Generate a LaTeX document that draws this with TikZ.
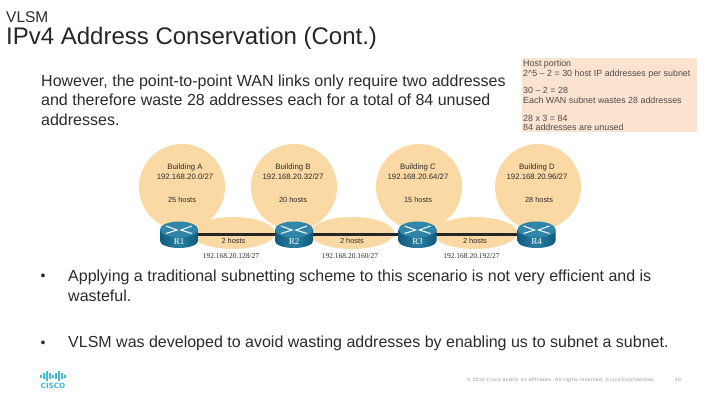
\documentclass[tikz,border=0pt]{standalone}
\usepackage{fontspec}
\setmainfont{Liberation Sans}
\newfontfamily\serifrm{Liberation Serif}
\newfontfamily\logofont{DejaVu Sans}
\usetikzlibrary{shapes.geometric}
\definecolor{bub}{HTML}{FBD9A4}
\definecolor{notebg}{HTML}{FCE3D0}
\definecolor{txt}{HTML}{2B2B2B}
\definecolor{rtop}{HTML}{2F86A8}
\definecolor{rside}{HTML}{0F5A7C}
\definecolor{cisco}{HTML}{3DBBDD}
\tikzset{
  bodytext/.style={anchor=north west,inner sep=0pt,align=left,text=txt,font=\fontsize{16}{19.7}\selectfont},
  bulletmark/.style={anchor=base,inner sep=0pt,text=txt,font=\fontsize{14}{16}\selectfont},
  netlabel/.style={align=center,inner sep=0pt,text=txt,font=\fontsize{7.8}{10.4}\selectfont},
  hostlabel/.style={inner sep=0pt,text=txt,font=\fontsize{7.4}{9}\selectfont},
  wanlabel/.style={inner sep=0pt,text=txt,font=\serifrm\fontsize{7.5}{9}\selectfont},
  rlabel/.style={inner sep=0pt,text=white,font=\serifrm\fontsize{9}{10}\selectfont},
  bubble/.style={circle,fill=bub,inner sep=0pt,minimum size=86pt},
  wanbubble/.style={ellipse,fill=bub,minimum width=84pt,minimum height=32pt,inner sep=0pt},
  routerspot/.style={inner sep=0pt,minimum width=38pt,minimum height=26pt},
  routerbody/.style={left color=rside,right color=rside,middle color=rtop!85!rside},
  routertop/.style={fill=rtop},
  routerx/.style={white,line width=1pt},
  wanlink/.style={draw=black!85,line width=2.2pt},
  footer/.style={inner sep=0pt,text=black!45,font=\fontsize{4.8}{6}\selectfont},
  ciscobar/.style={draw=cisco,line width=1.5pt}
}
\begin{document}
\begin{tikzpicture}[x=1pt,y=-1pt]
\useasboundingbox[fill=white] (0,0) rectangle (720,405);
\node[anchor=west,inner sep=0pt,text=txt,font=\fontsize{15.5}{17}\selectfont] (sec) at (6,17) {VLSM};
\node[anchor=west,inner sep=0pt,text=black!85,font=\fontsize{24}{27}\selectfont] (title) at (6,38) {IPv4 Address Conservation (Cont.)};
\node[bodytext] (intro) at (41,74.5) {However, the point-to-point WAN links only require two addresses\\and therefore waste 28 addresses each for a total of 84 unused\\addresses.};
\node[anchor=north west,fill=notebg,minimum width=175pt,minimum height=74pt,inner sep=0pt] (notebox) at (522,58) {};
\node[anchor=north west,inner sep=0pt,align=left,text=black!70,font=\fontsize{8.9}{9.35}\selectfont] (note) at (523,60) {Host portion\\2\textasciicircum 5 -- 2 = 30 host IP addresses per subnet\\[8.6pt]30 -- 2 = 28\\Each WAN subnet wastes 28 addresses\\[8.6pt]28 x 3 = 84\\84 addresses are unused};
% bubbles
\node[bubble] (ba) at (182,187) {};
\node[bubble] (bb) at (294,187) {};
\node[bubble] (bc) at (419,187) {};
\node[bubble] (bd) at (538,187) {};
\node[wanbubble] (w1) at (233,233) {};
\node[wanbubble] (w2) at (352,233) {};
\node[wanbubble] (w3) at (475,233) {};
% router positions and links
\node[routerspot] (r1) at (179,234.5) {};
\node[routerspot] (r2) at (294,234.5) {};
\node[routerspot] (r3) at (417.5,234.5) {};
\node[routerspot] (r4) at (536.5,234.5) {};
\draw[wanlink] (r1.center) -- (r2.center) -- (r3.center) -- (r4.center);
% routers
\foreach \n/\l in {r1/R1,r2/R2,r3/R3,r4/R4}{
  \path[routerbody] ([shift={(-19,-5)}]\n.center) -- ([shift={(-19,6.5)}]\n.center)
     arc[start angle=180,end angle=360,x radius=19pt,y radius=7pt] -- ([shift={(19,-5)}]\n.center) -- cycle;
  \path[routertop] ([shift={(0,-5)}]\n.center) ellipse[x radius=19pt,y radius=8pt];
  \node[rlabel] (\n t) at ([yshift=-7.5pt]\n.center) {\l};
  \draw[routerx] ([shift={(-13,-8.5)}]\n.center) -- ([shift={(-2,-4.5)}]\n.center) -- ([shift={(-13,-1)}]\n.center);
  \draw[routerx] ([shift={(13,-8.5)}]\n.center) -- ([shift={(2,-4.5)}]\n.center) -- ([shift={(13,-1)}]\n.center);
}
% labels
\node[netlabel] (la) at (185,172) {Building A\\192.168.20.0/27};
\node[netlabel] (lb) at (293,172) {Building B\\192.168.20.32/27};
\node[netlabel] (lc) at (418,172) {Building C\\192.168.20.64/27};
\node[netlabel] (ld) at (537,172) {Building D\\192.168.20.96/27};
\node[hostlabel] (ha) at (182,200) {25 hosts};
\node[hostlabel] (hb) at (293,200) {20 hosts};
\node[hostlabel] (hc) at (418,200) {15 hosts};
\node[hostlabel] (hd) at (539,200) {28 hosts};
\node[hostlabel] (h1) at (233.5,241) {2 hosts};
\node[hostlabel] (h2) at (352,241) {2 hosts};
\node[hostlabel] (h3) at (475,241) {2 hosts};
\node[wanlabel] (n1) at (231,256) {192.168.20.128/27};
\node[wanlabel] (n2) at (350,256) {192.168.20.160/27};
\node[wanlabel] (n3) at (471.5,256) {192.168.20.192/27};
% bullets
\node[bulletmark] (b1m) at (43,280) {•};
\node[bodytext] (b1) at (68,269.5) {Applying a traditional subnetting scheme to this scenario is not very efficient and is\\[0.7pt]wasteful.};
\node[bulletmark] (b2m) at (43,347) {•};
\node[bodytext] (b2) at (68,336) {VLSM was developed to avoid wasting addresses by enabling us to subnet a subnet.};
% footer
\node[footer,anchor=west] (copy) at (467,380) {\addfontfeature{LetterSpace=11}© 2016  Cisco and/or its affiliates. All rights reserved.   Cisco Confidential};
\node[footer,anchor=west] (pg) at (675,380) {\addfontfeature{LetterSpace=11}40};
% logo
\foreach \x/\h in {41/1.5,44/3,47/5,50/3,53/1.5,56/3,59/5,62/3,65/1.5}{
  \draw[ciscobar] (\x,376-\h) -- (\x,376+\h);
}
\node[inner sep=0pt,text=cisco,font=\logofont\bfseries\fontsize{7.2}{8}\selectfont] (cis) at (53,385.5) {CISCO};
\end{tikzpicture}
\end{document}
